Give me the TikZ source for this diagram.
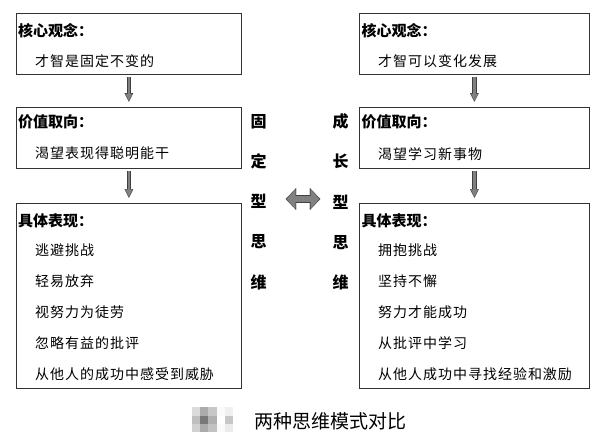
\documentclass[tikz,border=0pt]{standalone}
\usepackage{fontspec}
\setmainfont{Noto Sans CJK SC}
\newfontfamily\itemfont[LetterSpace=7]{Noto Sans CJK SC}
\usetikzlibrary{arrows.meta}

\tikzset{
  box/.style={draw=black!80, line width=0.8pt, anchor=north west, inner sep=0pt},
  head/.style={anchor=west, inner sep=0pt, font=\fontsize{15}{15}\selectfont\bfseries},
  item/.style={anchor=west, inner sep=0pt, font=\itemfont\fontsize{14}{14}\selectfont},
  side/.style={inner sep=0pt, align=center, font=\fontsize{16}{40.25}\selectfont\bfseries},
  flow/.style={draw=gray, line width=2.8pt, shorten <=2.4pt, shorten >=6pt,
    -{Triangle[length=6.8pt,width=6.6pt,line width=0.1pt]},
    preaction={draw=black!75, line width=4.4pt, shorten <=2pt, shorten >=5pt,
      -{Triangle[length=8.6pt,width=8.6pt,line width=0.1pt]}}},
  swap/.style={draw=gray, line width=6.4pt, shorten <=1pt, shorten >=1pt,
    {Triangle[length=8.6pt,width=19pt,line width=0.1pt]}-{Triangle[length=8.6pt,width=19pt,line width=0.1pt]},
    preaction={draw=black!75, line width=8pt, shorten <=0pt, shorten >=0pt,
      {Triangle[length=10.5pt,width=22pt,line width=0.1pt]}-{Triangle[length=10.5pt,width=22pt,line width=0.1pt]}}},
}

\begin{document}
\begin{tikzpicture}[x=1pt, y=-1pt]
  \useasboundingbox (0,0) rectangle (615,437);
  % parameters
  \def\lx{16}     % left column
  \def\rx{359}    % right column
  \def\dy{30.8}   % line spacing in the last boxes

  % left column: fixed mindset
  \node[box, minimum width=225pt, minimum height=61.5pt] (fixcore) at (\lx,12.5) {};
  \node[box, minimum width=225pt, minimum height=61.5pt] (fixvalue) at (\lx,106.7) {};
  \node[box, minimum width=225pt, minimum height=185.5pt] (fixact) at (\lx,202.8) {};
  \node[head] (fixcoreh) at ([shift={(2,18.5)}]fixcore.north west) {核心观念：};
  \node[item] (fixcorei) at ([shift={(19,48.5)}]fixcore.north west) {才智是固定不变的};
  \node[head] (fixvalueh) at ([shift={(2,15.5)}]fixvalue.north west) {价值取向：};
  \node[item] (fixvaluei) at ([shift={(19,47)}]fixvalue.north west) {渴望表现得聪明能干};
  \node[head] (fixacth) at ([shift={(2,18.5)}]fixact.north west) {具体表现：};
  \foreach \txt [count=\i] in {逃避挑战,轻易放弃,视努力为徒劳,忽略有益的批评,从他人的成功中感受到威胁}
    \node[item] (fixact\i) at ([shift={(19,{17+\i*\dy})}]fixact.north west) {\txt};

  % right column: growth mindset
  \node[box, minimum width=230pt, minimum height=61.5pt] (growcore) at (\rx,12.5) {};
  \node[box, minimum width=230pt, minimum height=61.5pt] (growvalue) at (\rx,106.7) {};
  \node[box, minimum width=230pt, minimum height=185.5pt] (growact) at (\rx,202.8) {};
  \node[head] (growcoreh) at ([shift={(2.5,18.5)}]growcore.north west) {核心观念：};
  \node[item] (growcorei) at ([shift={(19,48.5)}]growcore.north west) {才智可以变化发展};
  \node[head] (growvalueh) at ([shift={(2.5,15.5)}]growvalue.north west) {价值取向：};
  \node[item] (growvaluei) at ([shift={(19,47)}]growvalue.north west) {渴望学习新事物};
  \node[head] (growacth) at ([shift={(2.5,18.5)}]growact.north west) {具体表现：};
  \foreach \txt [count=\i] in {拥抱挑战,坚持不懈,努力才能成功,从批评中学习,从他人成功中寻找经验和激励}
    \node[item] (growact\i) at ([shift={(19,{17+\i*\dy})}]growact.north west) {\txt};

  % flow arrows
  \draw[flow] (fixcore) -- (fixvalue);
  \draw[flow] (fixvalue) -- (fixact);
  \draw[flow] (growcore) -- (growvalue);
  \draw[flow] (growvalue) -- (growact);

  % side labels and the swap arrow
  \node[side] (fixlbl) at (258.5,202) {固\\定\\型\\思\\维};
  \node[side] (growlbl) at (340.5,202) {成\\长\\型\\思\\维};
  \draw[swap] ([xshift=19pt,yshift=3pt]fixlbl.east) -- ([xshift=-12pt,yshift=3pt]growlbl.west);

  % caption with its blurred mark
  \foreach \g [count=\k from 0] in {14,33,22,2,6,25,53,31,0,22,18,33,24,2,8} {
    \pgfmathsetmacro{\cx}{191.7+8.3*mod(\k,5)}
    \pgfmathsetmacro{\cy}{407.3+8.3*int(\k/5)}
    \fill[black!\g] (\cx,\cy) rectangle ++(8.4,8.4);
  }
  \node[font=\fontsize{19}{19}\selectfont] (title) at (330,421.5) {两种思维模式对比};
\end{tikzpicture}
\end{document}
